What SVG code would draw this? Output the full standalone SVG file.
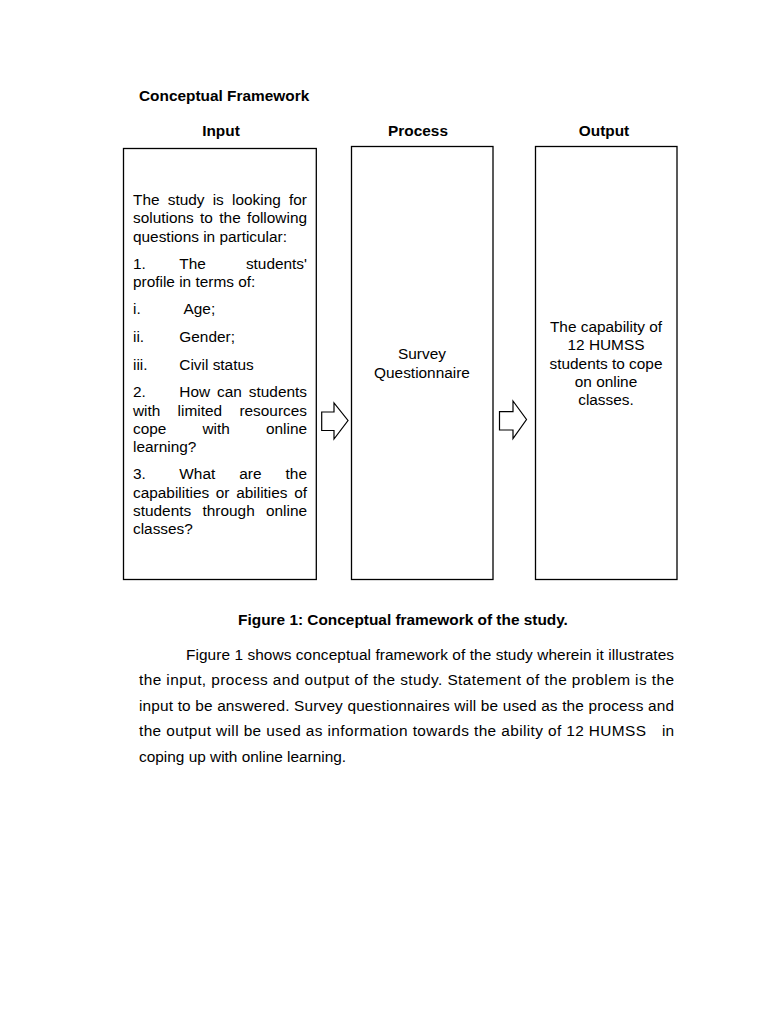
<svg xmlns="http://www.w3.org/2000/svg" width="768" height="1024" viewBox="0 0 768 1024">
<style>
text{font-family:"Liberation Sans",Arial,sans-serif;font-size:15.4px;fill:#000}
.b{font-weight:bold}
.c{text-anchor:middle}
.e{text-anchor:end}
.box{fill:#fff;stroke:#000;stroke-width:1.3}
.arr{fill:#fff;stroke:#000;stroke-width:1.2;stroke-linejoin:miter}
</style>
<rect width="768" height="1024" fill="#fff"/>
<text class="b" x="139" y="101">Conceptual Framework</text>
<text class="b c" x="221" y="136">Input</text>
<text class="b c" x="418" y="136">Process</text>
<text class="b c" x="604" y="136">Output</text>

<g id="input">
<rect class="box" x="123.5" y="148.5" width="192.8" height="431"/>
<text y="205"><tspan x="133">The</tspan><tspan x="167.7">study</tspan><tspan x="212.7">is</tspan><tspan x="232">looking</tspan><tspan x="307" class="e">for</tspan></text>
<text y="223.3"><tspan x="133">solutions</tspan><tspan x="200.1">to</tspan><tspan x="219.3">the</tspan><tspan x="307" class="e">following</tspan></text>
<text x="133" y="241.6">questions in particular:</text>
<text y="268.5"><tspan x="133">1.</tspan><tspan x="179.3">The</tspan><tspan x="307" class="e">students'</tspan></text>
<text x="133" y="286.8">profile in terms of:</text>
<text y="313.5"><tspan x="133">i.</tspan><tspan x="183.5">Age;</tspan></text>
<text y="342"><tspan x="133">ii.</tspan><tspan x="179.3">Gender;</tspan></text>
<text y="370"><tspan x="133">iii.</tspan><tspan x="179.3">Civil status</tspan></text>
<text y="397.2"><tspan x="133">2.</tspan><tspan x="179.3">How</tspan><tspan x="217">can</tspan><tspan x="307" class="e">students</tspan></text>
<text y="415.5"><tspan x="133">with</tspan><tspan x="177.6">limited</tspan><tspan x="307" class="e">resources</tspan></text>
<text y="433.8"><tspan x="133">cope</tspan><tspan x="202.5">with</tspan><tspan x="307" class="e">online</tspan></text>
<text x="133" y="452.1">learning?</text>
<text y="479.2"><tspan x="133">3.</tspan><tspan x="179.3">What</tspan><tspan x="239.3">are</tspan><tspan x="307" class="e">the</tspan></text>
<text y="497.5"><tspan x="133">capabilities</tspan><tspan x="215.8">or</tspan><tspan x="236.2">abilities</tspan><tspan x="307" class="e">of</tspan></text>
<text y="515.8"><tspan x="133">students</tspan><tspan x="202.5">through</tspan><tspan x="307" class="e">online</tspan></text>
<text x="133" y="534.1">classes?</text>
</g>

<g id="process">
<rect class="box" x="351.5" y="146.5" width="141.5" height="433"/>
<text class="c" x="422" y="359">Survey</text>
<text class="c" x="422" y="378">Questionnaire</text>
</g>

<g id="output">
<rect class="box" x="535.5" y="146.5" width="141.5" height="433"/>
<text class="c" x="606" y="332">The capability of</text>
<text class="c" x="606" y="350.3">12 HUMSS</text>
<text class="c" x="606" y="368.6">students to cope</text>
<text class="c" x="606" y="386.9">on online</text>
<text class="c" x="606" y="405.2">classes.</text>
</g>

<g id="connectors">
<polygon class="arr" points="321.7,412 334,412 334,403 348,420.5 334,439 334,430.5 321.7,430.5"/>
<polygon class="arr" points="499.5,411.7 513,411.7 513,401 526.5,419.5 513,438.5 513,430 499.5,430"/>
</g>

<text class="b c" x="403" y="624.5">Figure 1: Conceptual framework of the study.</text>
<text x="186" y="659.5" textLength="488" lengthAdjust="spacing">Figure 1 shows conceptual framework of the study wherein it illustrates</text>
<text x="139" y="685" textLength="535" lengthAdjust="spacing">the input, process and output of the study. Statement of the problem is the</text>
<text x="139" y="710.5" textLength="535" lengthAdjust="spacing">input to be answered. Survey questionnaires will be used as the process and</text>
<text x="139" y="736" textLength="507" lengthAdjust="spacing">the output will be used as information towards the ability of 12 HUMSS</text>
<text class="e" x="674" y="736">in</text>
<text x="139" y="761.5">coping up with online learning.</text>
</svg>
